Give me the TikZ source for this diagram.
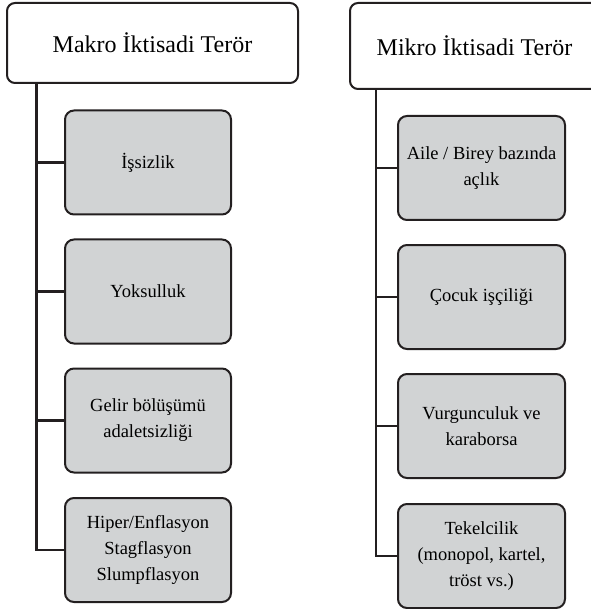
\documentclass[tikz,border=0pt]{standalone}
\usepackage{fontspec}
\setmainfont{Liberation Serif}
\definecolor{boxgray}{RGB}{209,211,212}
\definecolor{edge}{RGB}{35,31,32}
\begin{document}
\begin{tikzpicture}[x=1pt,y=-1pt,
  headbox/.style={draw=edge, line width=2pt, rounded corners=8pt, fill=white,
    font=\fontsize{24}{28}\selectfont, inner sep=0pt},
  subbox/.style={draw=edge, line width=2pt, rounded corners=9pt, fill=boxgray,
    font=\fontsize{18.5}{26}\selectfont, align=center, inner sep=0pt,
    minimum height=104pt},
  conn/.style={draw=edge, line width=2.3pt}
]
\useasboundingbox (0,0) rectangle (590,609);

% headers
\node[headbox, minimum width=291pt, minimum height=80pt] (lh) at (152.5,43) {Makro İktisadi Terör};
\node[headbox, minimum width=249pt, minimum height=86pt] (rh) at (474.5,46) {Mikro İktisadi Terör};

% left children
\node[subbox, minimum width=166pt] (l1) at (148,162.5) {İşsizlik};
\node[subbox, minimum width=166pt] (l2) at (148,291.5) {Yoksulluk};
\node[subbox, minimum width=166pt] (l3) at (148,420.5) {Gelir bölüşümü\\adaletsizliği};
\node[subbox, minimum width=166pt] (l4) at (148,550) {Hiper/Enflasyon\\Stagflasyon\\Slumpflasyon};

% right children
\node[subbox, minimum width=167pt] (r1) at (481.5,168) {Aile / Birey bazında\\açlık};
\node[subbox, minimum width=167pt] (r2) at (481.5,297) {Çocuk işçiliği};
\node[subbox, minimum width=167pt] (r3) at (481.5,426) {Vurgunculuk ve\\karaborsa};
\node[subbox, minimum width=167pt] (r4) at (481.5,556) {Tekelcilik\\(monopol, kartel,\\tröst vs.)};

% trunks
\coordinate (tL) at (36.5,0);
\coordinate (tR) at (376,0);

\draw[conn] (tL |- lh.south) -- (tL |- l4.west) -- (l4.west);
\draw[conn] (tL |- l1.west) -- (l1.west);
\draw[conn] (tL |- l2.west) -- (l2.west);
\draw[conn] (tL |- l3.west) -- (l3.west);

\draw[conn] (tR |- rh.south) -- (tR |- r4.west) -- (r4.west);
\draw[conn] (tR |- r1.west) -- (r1.west);
\draw[conn] (tR |- r2.west) -- (r2.west);
\draw[conn] (tR |- r3.west) -- (r3.west);
\end{tikzpicture}
\end{document}
